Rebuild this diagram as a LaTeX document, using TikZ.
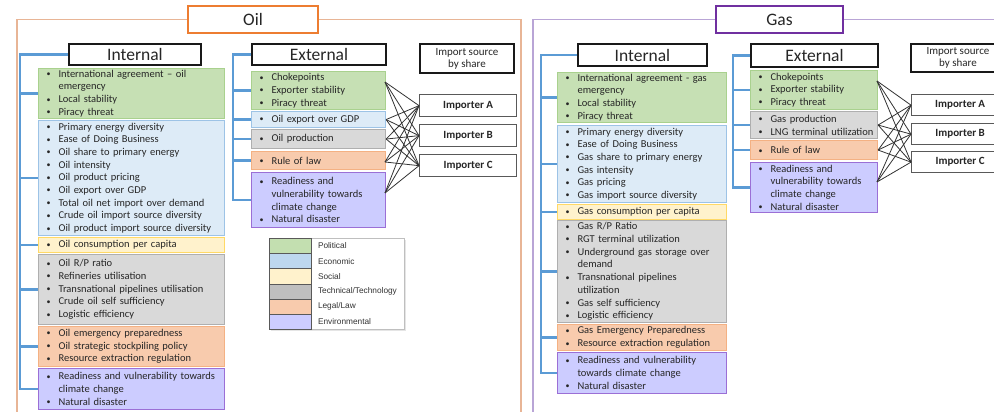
\documentclass[tikz,border=0pt]{standalone}
\usepackage{fontspec}
\setmainfont{Carlito}
\newfontfamily\legfont{Liberation Sans}
\usetikzlibrary{shadows,calc}
\definecolor{gF}{HTML}{C6E0B4}\definecolor{gD}{HTML}{A9D18E}
\definecolor{bF}{HTML}{DDEBF7}\definecolor{bD}{HTML}{9DC3E6}
\definecolor{yF}{HTML}{FFF2CC}\definecolor{yD}{HTML}{FFD966}
\definecolor{tF}{HTML}{D9D9D9}\definecolor{tD}{HTML}{AFAFAF}
\definecolor{lF}{HTML}{F8CBAD}\definecolor{lD}{HTML}{F4B183}
\definecolor{eF}{HTML}{CCCCFF}\definecolor{eD}{HTML}{9B6FD6}
\definecolor{brkC}{HTML}{5B9BD5}
\definecolor{oilC}{HTML}{ED7D31}\definecolor{oilFr}{HTML}{E8B596}
\definecolor{gasC}{HTML}{7030A0}\definecolor{gasFr}{HTML}{B9A5D6}
\definecolor{txt}{HTML}{262626}
\definecolor{legG}{HTML}{C3DFB0}\definecolor{legB}{HTML}{BDD7EE}
\definecolor{legT}{HTML}{BFBFBF}
\newcommand\bulg{\raisebox{0.6pt}{\fontsize{8}{8}\selectfont\textbullet}}
\newcommand\bu[1]{\mbox{\makebox[12pt][l]{\bulg}#1}}
\newcommand\ct[1]{\mbox{\hspace*{12pt}#1}}
\tikzset{
  itembox/.style={draw, line width=1.1pt, anchor=north west, inner xsep=8pt, inner ysep=0pt,
    align=left, text=txt, font=\fontsize{10.5}{12.7}\selectfont},
  hdr/.style={draw=black!90, line width=2pt, fill=white, anchor=north west, inner sep=0pt,
    text=txt, font=\fontsize{17.5}{20}\selectfont},
  ttl/.style={line width=2pt, fill=white, anchor=north west, inner sep=0pt,
    text=txt, font=\fontsize{17.5}{20}\selectfont},
  srcbox/.style={draw=black!90, line width=2pt, fill=white, anchor=north west, inner sep=0pt,
    align=center, text=txt, font=\fontsize{11}{12}\selectfont, minimum width=94pt, minimum height=29pt},
  imp/.style={draw=black!65, line width=1.3pt, fill=white, anchor=north west, inner sep=0pt,
    text=txt, font=\bfseries\fontsize{11}{13}\selectfont, minimum width=97pt, minimum height=22pt},
  brk/.style={draw=brkC, line width=2.4pt},
  crossln/.style={draw=black!80, line width=0.8pt},
  frm/.style={line width=1.4pt},
  legsw/.style={draw=black!65, line width=0.8pt, anchor=north west, minimum width=42pt, minimum height=15.2pt, inner sep=0pt},
  leglab/.style={anchor=west, inner sep=0pt, text=black!80, font=\legfont\fontsize{8.3}{10}\selectfont}
}
\newcommand\ibox[7]{%
  \pgfmathsetmacro\tw{#4-16}%
  \node[itembox, fill=#6F, draw=#6D, minimum width=#4pt, minimum height=#5pt, text width=\tw pt] (#1) at (#2,#3) {#7};}
\begin{document}
\begin{tikzpicture}[x=1pt,y=-1pt]
\useasboundingbox (0,0) rectangle (994,412);
\clip (0,0) rectangle (994,412);
\fill[white] (0,0) rectangle (994,412);
% frame corners
\coordinate (oFLb) at (17,430);
\coordinate (oFRb) at (521,430);
\coordinate (gFLb) at (533,430);
\coordinate (gFR) at (1010,0);
% ---------- OIL ----------
\node[ttl, draw=oilC, minimum width=130pt, minimum height=27pt] (oilT) at (187,5) {Oil};
\draw[frm, oilFr] (oilT.west) -| (oFLb);
\draw[frm, oilFr] (oilT.east) -| (oFRb);
\node[hdr, minimum width=132pt, minimum height=21pt] (oI) at (68,43) {Internal};
\node[hdr, minimum width=134pt, minimum height=21pt] (oE) at (251,43) {External};
\node[srcbox] (oS) at (419,43) {Import source\\by share};
\ibox{oIG}{38}{68}{186}{50}{g}{\bu{International agreement -- oil}\\\ct{emergency}\\\bu{Local stability}\\\bu{Piracy threat}}
\ibox{oIB}{38}{120}{186}{115}{b}{\bu{Primary energy diversity}\\\bu{Ease of Doing Business}\\\bu{Oil share to primary energy}\\\bu{Oil intensity}\\\bu{Oil product pricing}\\\bu{Oil export over GDP}\\\bu{Total oil net import over demand}\\\bu{Crude oil import source diversity}\\\bu{Oil product import source diversity}}
\ibox{oIY}{38}{237}{186}{15}{y}{\bu{Oil consumption per capita}}
\ibox{oIT}{38}{254}{186}{70}{t}{\bu{Oil R/P ratio}\\\bu{Refineries utilisation}\\\bu{Transnational pipelines utilisation}\\\bu{Crude oil self sufficiency}\\\bu{Logistic efficiency}}
\ibox{oIL}{38}{326}{186}{40}{l}{\bu{Oil emergency preparedness}\\\bu{Oil strategic stockpiling policy}\\\bu{Resource extraction regulation}}
\ibox{oIE}{38}{368}{186}{41}{e}{\bu{Readiness and vulnerability towards}\\\ct{climate change}\\\bu{Natural disaster}}
\ibox{oEG}{251}{71}{134}{38}{g}{\bu{Chokepoints}\\\bu{Exporter stability}\\\bu{Piracy threat}}
\ibox{oEB}{251}{111}{134}{16}{b}{\bu{Oil export over GDP}}
\ibox{oET}{251}{129}{134}{19}{t}{\bu{Oil production}}
\ibox{oEL}{251}{151}{134}{18}{l}{\bu{Rule of law}}
\ibox{oEE}{251}{172}{134}{55}{e}{\bu{Readiness and}\\\ct{vulnerability towards}\\\ct{climate change}\\\bu{Natural disaster}}
\node[imp] (oA) at (419,94) {Importer A};
\node[imp] (oB) at (419,124) {Importer B};
\node[imp] (oC) at (419,154) {Importer C};
% brackets
\coordinate (oiX) at (20,0);
\draw[brk] (oI.west) -- (oiX |- oI.west) -- (oiX |- oIE.west) -- (oIE.west);
\foreach \n in {oIG,oIB,oIY,oIT,oIL} \draw[brk] (oiX |- \n.west) -- (\n.west);
\coordinate (oeX) at (233,0);
\draw[brk] (oE.west) -- (oeX |- oE.west) -- (oeX |- oEE.west) -- (oEE.west);
\foreach \n in {oEG,oEB,oET,oEL} \draw[brk] (oeX |- \n.west) -- (\n.west);
% crossing
\coordinate (os1) at (385,82);
\coordinate (os4) at (385,162);
\coordinate (os5) at (385,193);
\foreach \s in {os1,oEB.east,oET.east,os4,os5}
  \foreach \t in {oA,oB,oC} \draw[crossln] (\s) -- (\t.west);
% legend
\node[draw=black!25, fill=white, line width=0.6pt, anchor=north west, minimum width=135pt, minimum height=91pt, inner sep=0pt,
  drop shadow={opacity=0.2, shadow xshift=1.2pt, shadow yshift=-1.2pt}] (leg) at (269,238) {};
\node[legsw, fill=legG] (lg1) at (269,238) {};
\node[legsw, fill=legB] (lg2) at (269,253.2) {};
\node[legsw, fill=yF] (lg3) at (269,268.4) {};
\node[legsw, fill=legT] (lg4) at (269,283.6) {};
\node[legsw, fill=lF] (lg5) at (269,298.8) {};
\node[legsw, fill=eF] (lg6) at (269,314) {};
\node[leglab] (lt1) at ([xshift=6pt]lg1.east) {Political};
\node[leglab] (lt2) at ([xshift=6pt]lg2.east) {Economic};
\node[leglab] (lt3) at ([xshift=6pt]lg3.east) {Social};
\node[leglab] (lt4) at ([xshift=6pt]lg4.east) {Technical/Technology};
\node[leglab] (lt5) at ([xshift=6pt]lg5.east) {Legal/Law};
\node[leglab] (lt6) at ([xshift=6pt]lg6.east) {Environmental};
% ---------- GAS ----------
\node[ttl, draw=gasC, minimum width=127pt, minimum height=27pt] (gasT) at (715,5) {Gas};
\draw[frm, gasFr] (gasT.west) -| (gFLb);
\draw[frm, gasFr] (gasT.east) -- (gasT.east -| gFR);
\node[hdr, minimum width=129pt, minimum height=22pt] (gI) at (577,43) {Internal};
\node[hdr, minimum width=127pt, minimum height=23pt] (gE) at (750,43) {External};
\node[srcbox, minimum height=28pt] (gS) at (910,43) {Import source\\by share};
\ibox{gIG}{557}{72}{169}{50}{g}{\bu{International agreement - gas}\\\ct{emergency}\\\bu{Local stability}\\\bu{Piracy threat}}
\ibox{gIB}{557}{125}{169}{77}{b}{\bu{Primary energy diversity}\\\bu{Ease of Doing Business}\\\bu{Gas share to primary energy}\\\bu{Gas intensity}\\\bu{Gas pricing}\\\bu{Gas import source diversity}}
\ibox{gIY}{557}{204}{169}{15}{y}{\bu{Gas consumption per capita}}
\ibox{gIT}{557}{220}{169}{102}{t}{\bu{Gas R/P Ratio}\\\bu{RGT terminal utilization}\\\bu{Underground gas storage over}\\\ct{demand}\\\bu{Transnational pipelines}\\\ct{utilization}\\\bu{Gas self sufficiency}\\\bu{Logistic efficiency}}
\ibox{gIL}{557}{324}{169}{26}{l}{\bu{Gas Emergency Preparedness}\\\bu{Resource extraction regulation}}
\ibox{gIE}{557}{352}{169}{41}{e}{\bu{Readiness and vulnerability}\\\ct{towards climate change}\\\bu{Natural disaster}}
\ibox{gEG}{750}{70}{127}{39}{g}{\bu{Chokepoints}\\\bu{Exporter stability}\\\bu{Piracy threat}}
\ibox{gET}{750}{111}{127}{27}{t}{\bu{Gas production}\\\bu{LNG terminal utilization}}
\ibox{gEL}{750}{140}{127}{19}{l}{\bu{Rule of law}}
\ibox{gEE}{750}{162}{127}{50}{e}{\bu{Readiness and}\\\ct{vulnerability towards}\\\ct{climate change}\\\bu{Natural disaster}}
\node[imp, minimum height=21pt] (gA) at (911,94) {Importer A};
\node[imp, minimum height=21pt] (gB) at (911,123) {Importer B};
\node[imp, minimum height=21pt] (gC) at (911,151) {Importer C};
\coordinate (giX) at (541,0);
\draw[brk] (gI.west) -- (giX |- gI.west) -- (giX |- gIE.west) -- (gIE.west);
\foreach \n in {gIG,gIB,gIY,gIT,gIL} \draw[brk] (giX |- \n.west) -- (\n.west);
\coordinate (geX) at (733,0);
\draw[brk] (gE.west) -- (geX |- gE.west) -- (geX |- gEE.west) -- (gEE.west);
\foreach \n in {gEG,gET,gEL} \draw[brk] (geX |- \n.west) -- (\n.west);
\coordinate (gs1) at (877,81);
\coordinate (gs4) at (877,182);
\foreach \s in {gs1,gET.east,gEL.east,gs4}
  \foreach \t in {gA,gB,gC} \draw[crossln] (\s) -- (\t.west);
\end{tikzpicture}
\end{document}
